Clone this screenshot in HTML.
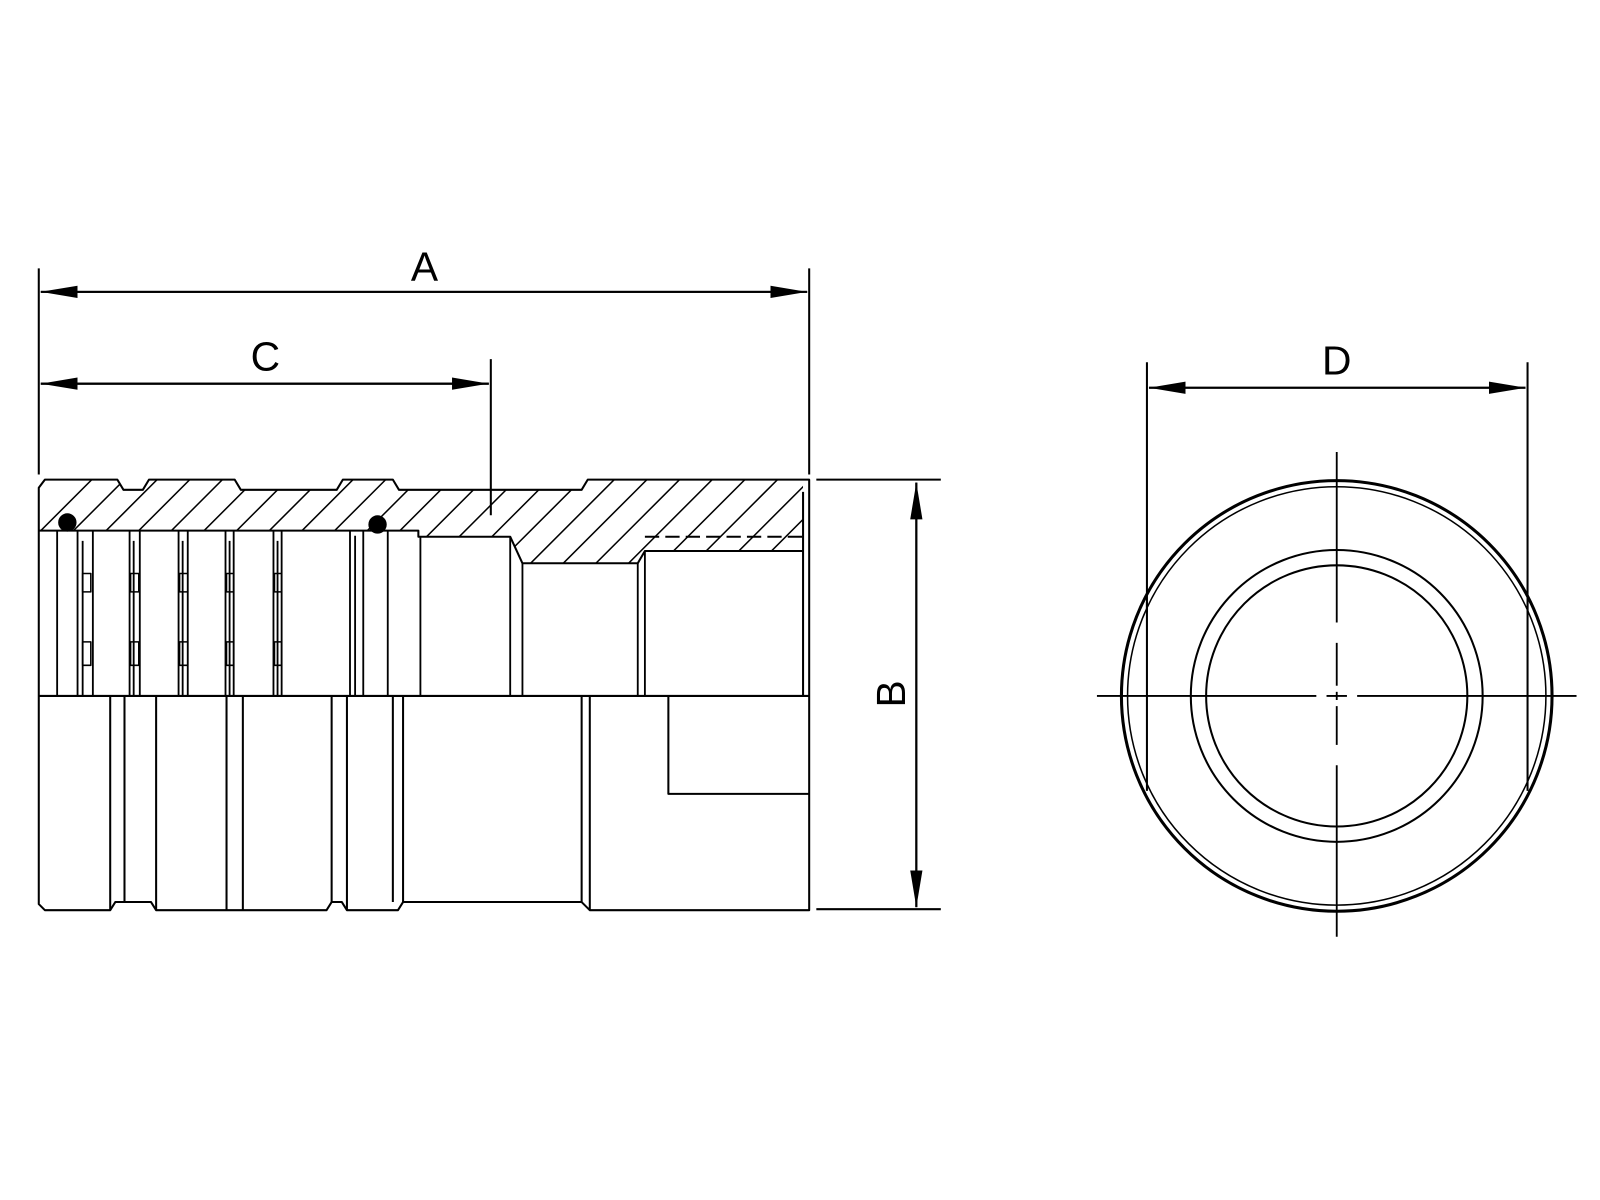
<!DOCTYPE html>
<html><head><meta charset="utf-8"><style>html,body{margin:0;padding:0;background:#fff}svg{display:block}</style></head>
<body>
<svg width="1600" height="1200" viewBox="0 0 1568 1176" xmlns="http://www.w3.org/2000/svg" font-family="'Liberation Sans', 'DejaVu Sans', sans-serif">
<defs>
<marker id="ar" markerWidth="36" markerHeight="12" refX="36" refY="6" orient="auto" markerUnits="userSpaceOnUse"><path d="M0,0 L36,6 L0,12 Z" fill="#000"/></marker>
<clipPath id="hc"><path d="M38,478 L44,470 L115,470 L121,480 L140,480 L146,470 L230,470 L236,480 L330,480 L336,470 L385,470 L391,480 L570,480 L576,470 L787,470 L787,540 L632,540 L625,552 L512,552 L500,526 L410,526 L410,520 L38,520 Z"/></clipPath>
</defs>
<g fill="none" stroke="#000" stroke-width="2">
<!-- dimension A -->
<line x1="38" y1="263" x2="38" y2="465"/>
<line x1="793" y1="263" x2="793" y2="465"/>
<line x1="40" y1="286" x2="791" y2="286" marker-end="url(#ar)" marker-start="url(#ar)" style="marker-start:none"/>
<line x1="791" y1="286" x2="40" y2="286" marker-end="url(#ar)"/>
<!-- C -->
<line x1="481" y1="352" x2="481" y2="505"/>
<line x1="40" y1="376" x2="479" y2="376" marker-end="url(#ar)"/>
<line x1="479" y1="376" x2="40" y2="376" marker-end="url(#ar)"/>
<!-- B -->
<line x1="800" y1="470" x2="922" y2="470"/>
<line x1="800" y1="891" x2="922" y2="891"/>
<line x1="898" y1="473" x2="898" y2="889" marker-end="url(#ar)"/>
<line x1="898" y1="889" x2="898" y2="473" marker-end="url(#ar)"/>
<!-- D -->
<line x1="1124" y1="355" x2="1124" y2="600"/>
<line x1="1497" y1="355" x2="1497" y2="600"/>
<line x1="1126" y1="380" x2="1495" y2="380" marker-end="url(#ar)"/>
<line x1="1495" y1="380" x2="1126" y2="380" marker-end="url(#ar)"/>
</g>
<g font-size="40" fill="#000" text-anchor="middle">
<text x="416" y="275">A</text>
<text x="260" y="363">C</text>
<text x="1310" y="367">D</text>
<text x="0" y="0" transform="translate(887,680) rotate(-90)">B</text>
</g>
<!-- hatch -->
<g clip-path="url(#hc)" stroke="#000" stroke-width="1.5">
<g id="h">
<line x1="0" y1="560" x2="110" y2="450"/><line x1="32" y1="560" x2="142" y2="450"/><line x1="64" y1="560" x2="174" y2="450"/><line x1="96" y1="560" x2="206" y2="450"/><line x1="128" y1="560" x2="238" y2="450"/><line x1="160" y1="560" x2="270" y2="450"/><line x1="192" y1="560" x2="302" y2="450"/><line x1="224" y1="560" x2="334" y2="450"/><line x1="256" y1="560" x2="366" y2="450"/><line x1="288" y1="560" x2="398" y2="450"/><line x1="320" y1="560" x2="430" y2="450"/><line x1="352" y1="560" x2="462" y2="450"/><line x1="384" y1="560" x2="494" y2="450"/><line x1="416" y1="560" x2="526" y2="450"/>
</g>
<use href="#h" x="448"/>
</g>
<g fill="none" stroke="#000" stroke-width="2" stroke-linejoin="round">
<!-- outer profile upper -->
<path d="M38,682 L38,478 L44,470 L115,470 L121,480 L140,480 L146,470 L230,470 L236,480 L330,480 L336,470 L385,470 L391,480 L570,480 L576,470 L793,470 L793,892 L578,892 L570,884 L395,884 L390,892 L340,892 L335,884 L325,884 L320,892 L153,892 L148,884 L113,884 L108,892 L44,892 L38,886 Z"/>
<line x1="787" y1="482" x2="787" y2="682"/>
<!-- bore -->
<path d="M38,520 L410,520 L410,526 L500,526 L512,552 L625,552 L632,540 L787,540"/>
<line x1="632" y1="526" x2="787" y2="526" stroke-dasharray="14,6"/>
<line x1="38" y1="682" x2="793" y2="682"/>
<!-- upper verticals -->
<g stroke-width="1.8">
<line x1="56" y1="520" x2="56" y2="682"/>
<line x1="76" y1="520" x2="76" y2="682"/><line x1="81" y1="530" x2="81" y2="682"/><line x1="91" y1="520" x2="91" y2="682"/>
<line x1="127" y1="520" x2="127" y2="682"/><line x1="131" y1="530" x2="131" y2="682"/><line x1="137" y1="520" x2="137" y2="682"/>
<line x1="175" y1="520" x2="175" y2="682"/><line x1="179" y1="530" x2="179" y2="682"/><line x1="184" y1="520" x2="184" y2="682"/>
<line x1="221" y1="520" x2="221" y2="682"/><line x1="225" y1="530" x2="225" y2="682"/><line x1="229" y1="520" x2="229" y2="682"/>
<line x1="268" y1="520" x2="268" y2="682"/><line x1="272" y1="530" x2="272" y2="682"/><line x1="276" y1="520" x2="276" y2="682"/>
<line x1="343" y1="520" x2="343" y2="682"/><line x1="348" y1="525" x2="348" y2="682"/><line x1="356" y1="520" x2="356" y2="682"/>
<line x1="380" y1="520" x2="380" y2="682"/><line x1="412" y1="526" x2="412" y2="682"/>
<line x1="500" y1="526" x2="500" y2="682"/><line x1="512" y1="552" x2="512" y2="682"/>
<line x1="625" y1="552" x2="625" y2="682"/><line x1="632" y1="540" x2="632" y2="682"/>
</g>
<!-- slots -->
<g stroke-width="1.5">
<rect x="81" y="562" width="8" height="18"/><rect x="81" y="629" width="8" height="23"/>
<rect x="128" y="562" width="8" height="18"/><rect x="128" y="629" width="8" height="23"/>
<rect x="176" y="562" width="8" height="18"/><rect x="176" y="629" width="8" height="23"/>
<rect x="222" y="562" width="7" height="18"/><rect x="222" y="629" width="7" height="23"/>
<rect x="269" y="562" width="7" height="18"/><rect x="269" y="629" width="7" height="23"/>
</g>
<!-- lower verticals -->
<line x1="108" y1="682" x2="108" y2="892"/><line x1="122" y1="682" x2="122" y2="884"/><line x1="153" y1="682" x2="153" y2="892"/>
<line x1="222" y1="682" x2="222" y2="892"/><line x1="238" y1="682" x2="238" y2="892"/>
<line x1="325" y1="682" x2="325" y2="884"/><line x1="340" y1="682" x2="340" y2="892"/>
<line x1="385" y1="682" x2="385" y2="884"/><line x1="395" y1="682" x2="395" y2="884"/>
<line x1="570" y1="682" x2="570" y2="884"/><line x1="578" y1="682" x2="578" y2="892"/>
<path d="M655,682 L655,778 L793,778"/>
</g>
<!-- o-rings -->
<circle cx="66" cy="512" r="9" fill="#000"/>
<circle cx="370" cy="514" r="9" fill="#000"/>
<!-- end view -->
<g fill="none" stroke="#000">
<circle cx="1310" cy="682" r="211" stroke-width="3"/>
<circle cx="1310" cy="682" r="205" stroke-width="1.5"/>
<circle cx="1310" cy="682" r="143" stroke-width="2"/>
<circle cx="1310" cy="682" r="128" stroke-width="2"/>
<line x1="1124" y1="590" x2="1124" y2="775" stroke-width="2"/>
<line x1="1497" y1="590" x2="1497" y2="775" stroke-width="2"/>
<g stroke-width="1.8">
<line x1="1075" y1="682" x2="1290" y2="682"/><line x1="1300" y1="682" x2="1320" y2="682"/><line x1="1330" y1="682" x2="1545" y2="682"/>
<line x1="1310" y1="443" x2="1310" y2="610"/><line x1="1310" y1="630" x2="1310" y2="672"/><line x1="1310" y1="678" x2="1310" y2="686"/><line x1="1310" y1="692" x2="1310" y2="730"/><line x1="1310" y1="750" x2="1310" y2="918"/>
</g>
</g>
</svg>
</body></html>
